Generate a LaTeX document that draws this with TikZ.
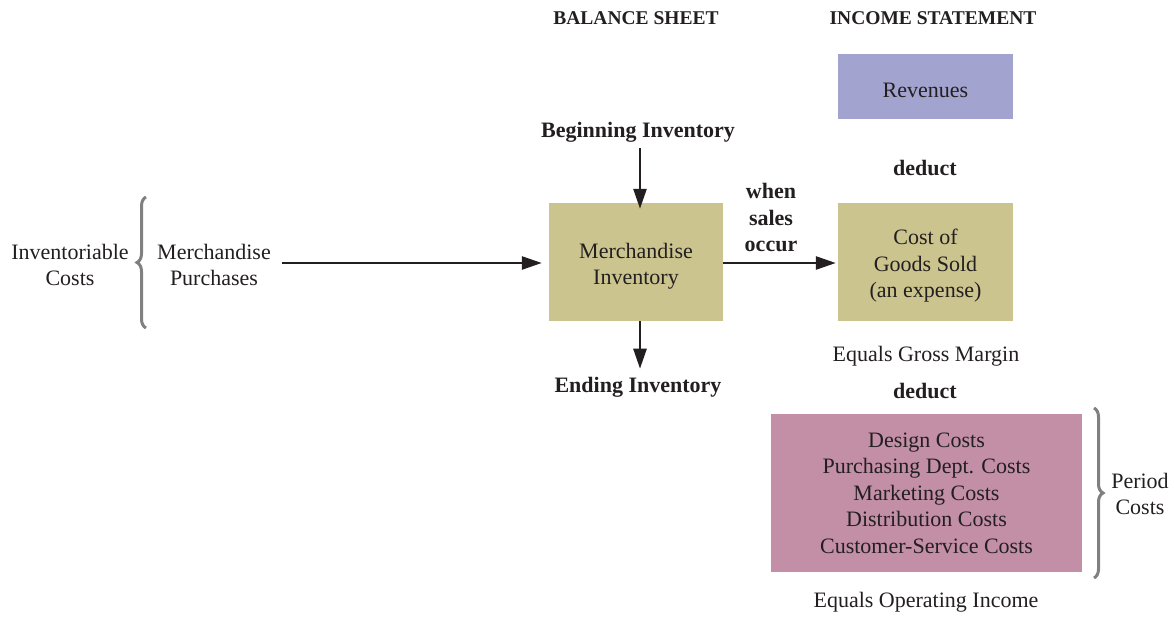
\documentclass[tikz,border=0pt]{standalone}
\usepackage{fontspec}
\setmainfont{Liberation Serif}
\usetikzlibrary{arrows.meta,decorations.pathreplacing}
\definecolor{txt}{HTML}{231F20}
\definecolor{revc}{HTML}{A3A3D0}
\definecolor{khaki}{HTML}{CBC48E}
\definecolor{mauve}{HTML}{C28FA6}
\definecolor{bracec}{HTML}{808080}
\tikzset{
  lbl/.style={text=txt, font=\fontsize{22}{26.5}\selectfont, align=center, inner sep=0pt},
  blbl/.style={lbl, font=\fontsize{22}{26.5}\selectfont\bfseries},
  hdr/.style={lbl, font=\fontsize{19.5}{22}\selectfont\bfseries},
  flow/.style={draw=txt, line width=2.6pt, -{Triangle[length=20pt,width=13pt]}},
  brc/.style={draw=bracec, line width=3pt, decorate, decoration={brace, amplitude=9pt}}
}
\begin{document}
\begin{tikzpicture}[x=1pt,y=-1pt]
\useasboundingbox (0,0) rectangle (1174,617);
% headers
\node[hdr] (bs) at (636,18) {BALANCE SHEET};
\node[hdr] (is) at (933,18) {INCOME STATEMENT};
% boxes
\node[fill=revc, minimum width=175pt, minimum height=65pt, inner sep=0pt] (rev) at (925.5,86.5) {};
\node[lbl] (revt) at ([yshift=-4pt]rev.center) {Revenues};
\node[fill=khaki, minimum width=174pt, minimum height=118pt, inner sep=0pt] (minv) at (636,262) {};
\node[lbl] (minvt) at ([yshift=-4pt]minv.center) {Merchandise\\Inventory};
\node[fill=khaki, minimum width=175pt, minimum height=118pt, inner sep=0pt] (cogs) at (925.5,262) {};
\node[lbl] (cogst) at ([yshift=-4pt]cogs.center) {Cost of\\Goods Sold\\(an expense)};
\node[lbl, fill=mauve, minimum width=311pt, minimum height=158pt] (per) at (926.5,493) {Design Costs\\Purchasing Dept. Costs\\Marketing Costs\\Distribution Costs\\Customer-Service Costs};
% labels
\node[blbl] (beg) at (638,132) {Beginning Inventory};
\node[blbl] (end) at (638,387) {Ending Inventory};
\node[blbl] (when) at (771,218) {when\\sales\\occur};
\node[blbl] (ded1) at (925,168) {deduct};
\node[lbl] (egm) at (926,356) {Equals Gross Margin};
\node[blbl] (ded2) at (925,391) {deduct};
\node[lbl] (eoi) at (926,602) {Equals Operating Income};
\node[lbl] (inv) at (70,265) {Inventoriable\\Costs};
\node[lbl] (mp) at (214,265) {Merchandise\\Purchases};
\node[lbl] (pc) at (1140,494) {Period\\Costs};
% braces
\coordinate (b1a) at (146,328);
\coordinate (b1b) at (146,197);
\draw[brc] (b1a) -- (b1b);
\coordinate (b2a) at (1094,408);
\coordinate (b2b) at (1094,578);
\draw[brc] (b2a) -- (b2b);
% arrows
\coordinate (col) at (640,263);
\draw[flow] (282,263) -- ([xshift=-7pt]minv.west |- col);
\draw[flow] (col |- beg.south) ++(0,6) -- ([yshift=-6pt]col |- minv.north);
\draw[flow] (col |- minv.south) -- ([yshift=8pt]col |- end.north);
\draw[flow] (minv.east |- col) -- ([xshift=-2pt]cogs.west |- col);
\end{tikzpicture}
\end{document}
